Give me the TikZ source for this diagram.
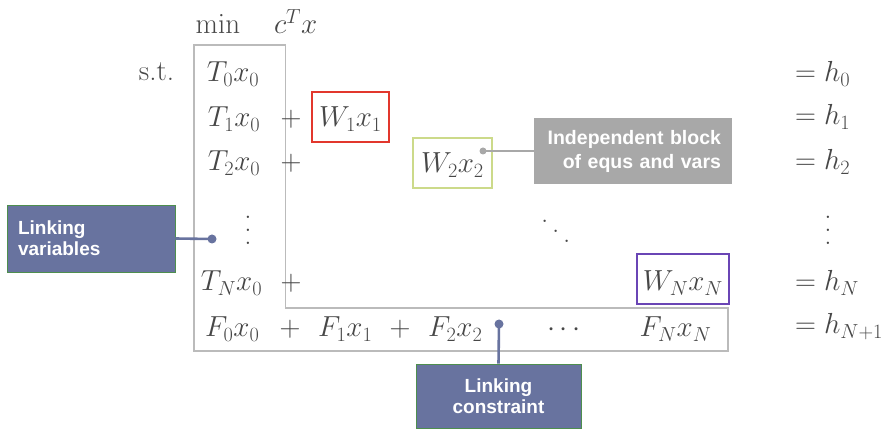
\RequirePackage{fix-cm}
\documentclass[tikz,border=0pt]{standalone}
\usepackage[no-math]{fontspec}
\newfontfamily\labfont{Liberation Sans}
\definecolor{mathgray}{HTML}{474747}
\definecolor{boxgray}{HTML}{BBBBBB}
\definecolor{wred}{HTML}{E2372D}
\definecolor{wgreen}{HTML}{CCDA8A}
\definecolor{wpurple}{HTML}{6A45B5}
\definecolor{slate}{HTML}{68739F}
\definecolor{slateedge}{HTML}{4E8E4E}
\definecolor{labgray}{HTML}{A8A8A8}
\newcommand{\myvdots}{\vbox{\baselineskip=13pt\lineskiplimit=0pt\hbox{.}\hbox{.}\hbox{.}}}
\newcommand{\myddots}{\hbox{\raise20pt\hbox{.}\kern3.7pt\raise10pt\hbox{.}\kern3.7pt\hbox{.}}}
\begin{document}
\begin{tikzpicture}[x=1pt,y=-1pt,
  m/.style={anchor=base, inner sep=0pt, text=mathgray, font=\fontsize{29}{33}\selectfont},
  mw/.style={anchor=base west, inner sep=0pt, text=mathgray, font=\fontsize{29}{33}\selectfont},
  wbox/.style={m, draw=#1, line width=1.8pt, text height=22pt, text depth=2pt, minimum height=50pt},
  gline/.style={draw=boxgray, line width=1.6pt},
  labbox/.style={fill=slate, draw=slateedge, line width=0.8pt, text=white,
     font=\labfont\bfseries\fontsize{19}{21}\selectfont},
  slink/.style={draw=slate, line width=2.6pt},
  sdot/.style={circle, fill=slate, inner sep=0pt, minimum size=9pt},
  gdot/.style={circle, fill=labgray, inner sep=0pt, minimum size=7pt}]
\useasboundingbox (0,0) rectangle (892,430);

% objective and s.t.
\node[m] (obj) at (256.5,34) {$\min\quad c^Tx$};
\node[m] (st) at (156.5,81) {s.t.};

% structure outline
\draw[gline] (194,351) -- (194,45) -- (285.5,45) -- (285.5,308) -- (728,308) -- (728,351) -- cycle;

% T column
\node[m] (t0) at (233,82) {$T_0x_0$};
\node[m] (t1) at (234,127) {$T_1x_0$};
\node[m] (t2) at (234,171) {$T_2x_0$};
\node[m, anchor=south] (vd1) at (248,244.5) {\myvdots};
\node[m] (tn) at (231.5,291) {$T_Nx_0$};

% plus signs
\node[m] (p1) at (291,127) {$+$};
\node[m] (p2) at (291,171) {$+$};
\node[m] (pn) at (291,291) {$+$};

% W blocks
\node[wbox=wred, minimum width=77pt] (w1) at (350.5,127) {$W_1x_1$};
\node[wbox=wgreen, minimum width=79pt] (w2) at (452.5,173) {$W_2x_2$};
\node[m, anchor=base west] (dd) at (541,243) {\myddots};
\node[wbox=wpurple, minimum width=92pt, text height=26pt] (wn) at (683,291) {$W_Nx_N$};

% linking row
\node[mw] (f0) at (205,337) {$F_0x_0$};
\node[m] (fp1) at (290,337) {$+$};
\node[mw] (f1) at (318,337) {$F_1x_1$};
\node[m] (fp2) at (400,337) {$+$};
\node[mw] (f2) at (428,337) {$F_2x_2$};
\node[m] (cd) at (564,337) {$\cdots$};
\node[m] (fn) at (675.5,337) {$F_Nx_N$};

% right-hand sides
\node[mw] (h0) at (795,82) {$=h_0$};
\node[mw] (h1) at (795,125) {$=h_1$};
\node[mw] (h2) at (795,170) {$=h_2$};
\node[m, anchor=south] (vd2) at (828,244.5) {\myvdots};
\node[mw] (hn) at (795,291) {$=h_N$};
\node[mw] (hn1) at (795,334) {$=h_{N+1}$};

% annotation: independent block
\node[fill=labgray, text=white, font=\labfont\bfseries\fontsize{19.5}{24}\selectfont,
      text width=176pt, align=right, inner xsep=11pt, inner ysep=0pt,
      minimum height=66pt] (ib) at (633,151) {Independent block\\of equs and vars};
\node[gdot] (dw) at (483,151) {};
\draw[draw=labgray, line width=1.5pt] (dw.center) -- (ib.west);

% annotation: linking variables
\node[labbox, text width=146pt, align=left, inner xsep=11pt, inner ysep=0pt,
      minimum height=67pt] (lv) at (91,238.5) {Linking\\variables};
\node[sdot] (dv) at (212,239) {};
\draw[slink] (lv.east) -- (dv.center);

% annotation: linking constraint
\node[labbox, text width=145pt, align=center, inner xsep=10pt, inner ysep=0pt,
      minimum height=64pt] (lc) at (498.5,396) {Linking\\constraint};
\node[sdot] (dc) at (499,324) {};
\draw[slink] (dc.center) -- (lc.north);
\end{tikzpicture}
\end{document}
